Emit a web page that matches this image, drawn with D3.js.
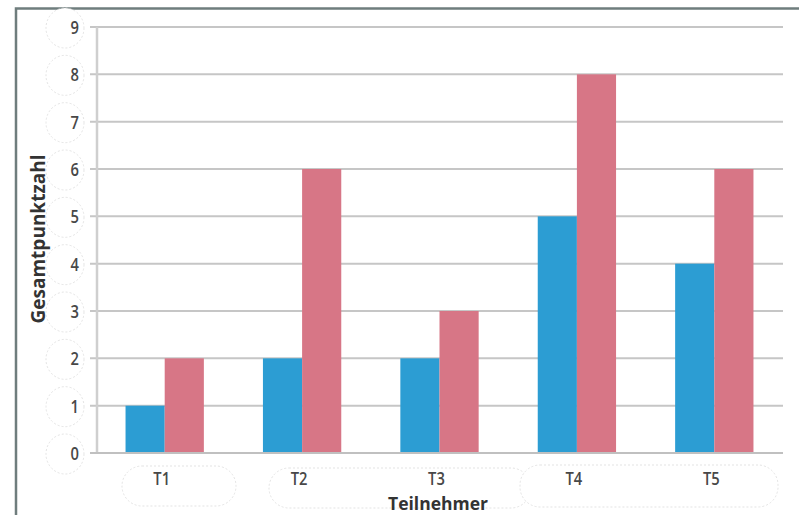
<!DOCTYPE html>
<html>
<head>
<meta charset="utf-8">
<script src="https://cdn.jsdelivr.net/npm/d3@7"></script>
<style>
  html, body { margin: 0; padding: 0; background: #fff; }
  svg { display: block; }
</style>
</head>
<body>
<svg id="chart" width="799" height="515"></svg>
<script>
// Participants and their scores in two rounds
const categories = ["T1", "T2", "T3", "T4", "T5"];
const seriesNames = ["Runde 1", "Runde 2"];
const round1 = [1, 2, 2, 5, 4];
const round2 = [2, 6, 3, 8, 6];
const yTicks = [0, 1, 2, 3, 4, 5, 6, 7, 8, 9];
const colors = ["#2c9dd3", "#d77686"];

const rows = categories.map((c, i) => ({ cat: c, values: [round1[i], round2[i]] }));

const svg = d3.select("#chart");
const plot = { left: 96, right: 783, top: 27, bottom: 453 };

const x = d3.scaleBand().domain(categories)
  .range([plot.left, plot.right]).paddingInner(0.43).paddingOuter(0.215);
const xSub = d3.scaleBand().domain(seriesNames).range([0, x.bandwidth()]);
const y = d3.scaleLinear().domain([0, 9]).range([plot.bottom, plot.top]);

const font = "'Open Sans', 'Noto Sans', sans-serif";

// Outer frame (top and left edges)
svg.append("path")
  .attr("d", "M16,515 V8.5 H799")
  .attr("fill", "none").attr("stroke", "#6f7d7d").attr("stroke-width", 2.5);

// Faint dotted outlines behind the labels
const halo = svg.append("g").attr("fill", "#fff").attr("stroke", "#dcdcdc")
  .attr("stroke-width", 0.8).attr("stroke-dasharray", "2,2");
yTicks.forEach(t => {
  halo.append("ellipse").attr("cx", 65).attr("cy", y(t) + 1).attr("rx", 19).attr("ry", 20);
});
halo.append("rect").attr("x", 122).attr("y", 466).attr("width", 114).attr("height", 40).attr("rx", 20);
halo.append("rect").attr("x", 269).attr("y", 468).attr("width", 262).attr("height", 40).attr("rx", 20);
halo.append("rect").attr("x", 520).attr("y", 465).attr("width", 258).attr("height", 42).attr("rx", 20);

// Horizontal gridlines
svg.append("g")
  .selectAll("line").data(yTicks).join("line")
  .attr("x1", plot.left - 6).attr("x2", plot.right)
  .attr("y1", d => y(d)).attr("y2", d => y(d))
  .attr("stroke", "#c6c6c6").attr("stroke-width", 2);

// Vertical axis line
svg.append("line")
  .attr("x1", plot.left + 1).attr("x2", plot.left + 1)
  .attr("y1", y(9)).attr("y2", y(0))
  .attr("stroke", "#cfcfcf").attr("stroke-width", 2.5);

// Bars
svg.append("g")
  .selectAll("g").data(rows).join("g")
  .attr("transform", d => `translate(${x(d.cat)},0)`)
  .selectAll("rect").data(d => d.values.map((v, i) => ({ v, i })))
  .join("rect")
  .attr("x", d => xSub(seriesNames[d.i]))
  .attr("width", xSub.bandwidth())
  .attr("y", d => y(d.v))
  .attr("height", d => y(0) - y(d.v))
  .attr("fill", d => colors[d.i]);

// Baseline
svg.append("line")
  .attr("x1", plot.left - 6).attr("x2", plot.right)
  .attr("y1", y(0)).attr("y2", y(0))
  .attr("stroke", "#c0c0c0").attr("stroke-width", 2);

// Y tick labels (slightly condensed)
const yAxis = d3.axisLeft(y).tickValues(yTicks).tickSize(0).tickPadding(0);
const yg = svg.append("g").attr("transform", `translate(79,0)`).call(yAxis);
yg.select(".domain").remove();
yg.selectAll("text")
  .attr("font-family", font).attr("font-size", 18).attr("font-weight", 600)
  .attr("fill", "#484848").attr("dy", "0.36em")
  .attr("transform", "scale(0.82,1)");

// X tick labels (slightly condensed)
const xAxis = d3.axisBottom(x).tickSize(0).tickPadding(0);
const xg = svg.append("g").attr("transform", `translate(-3,${485})`).call(xAxis);
xg.select(".domain").remove();
xg.selectAll("text")
  .attr("font-family", font).attr("font-size", 18).attr("font-weight", 600)
  .attr("fill", "#484848").attr("dy", "0")
  .attr("transform", "scale(0.82,1)");

// Axis titles
svg.append("text")
  .attr("x", 438).attr("y", 510)
  .attr("text-anchor", "middle")
  .attr("font-family", font).attr("font-size", 17.5).attr("font-weight", 700)
  .attr("fill", "#333")
  .text("Teilnehmer");

svg.append("text")
  .attr("transform", "translate(45,239) rotate(-90)")
  .attr("text-anchor", "middle")
  .attr("font-family", font).attr("font-size", 19).attr("font-weight", 700)
  .attr("fill", "#333")
  .text("Gesamtpunktzahl");
</script>
</body>
</html>
